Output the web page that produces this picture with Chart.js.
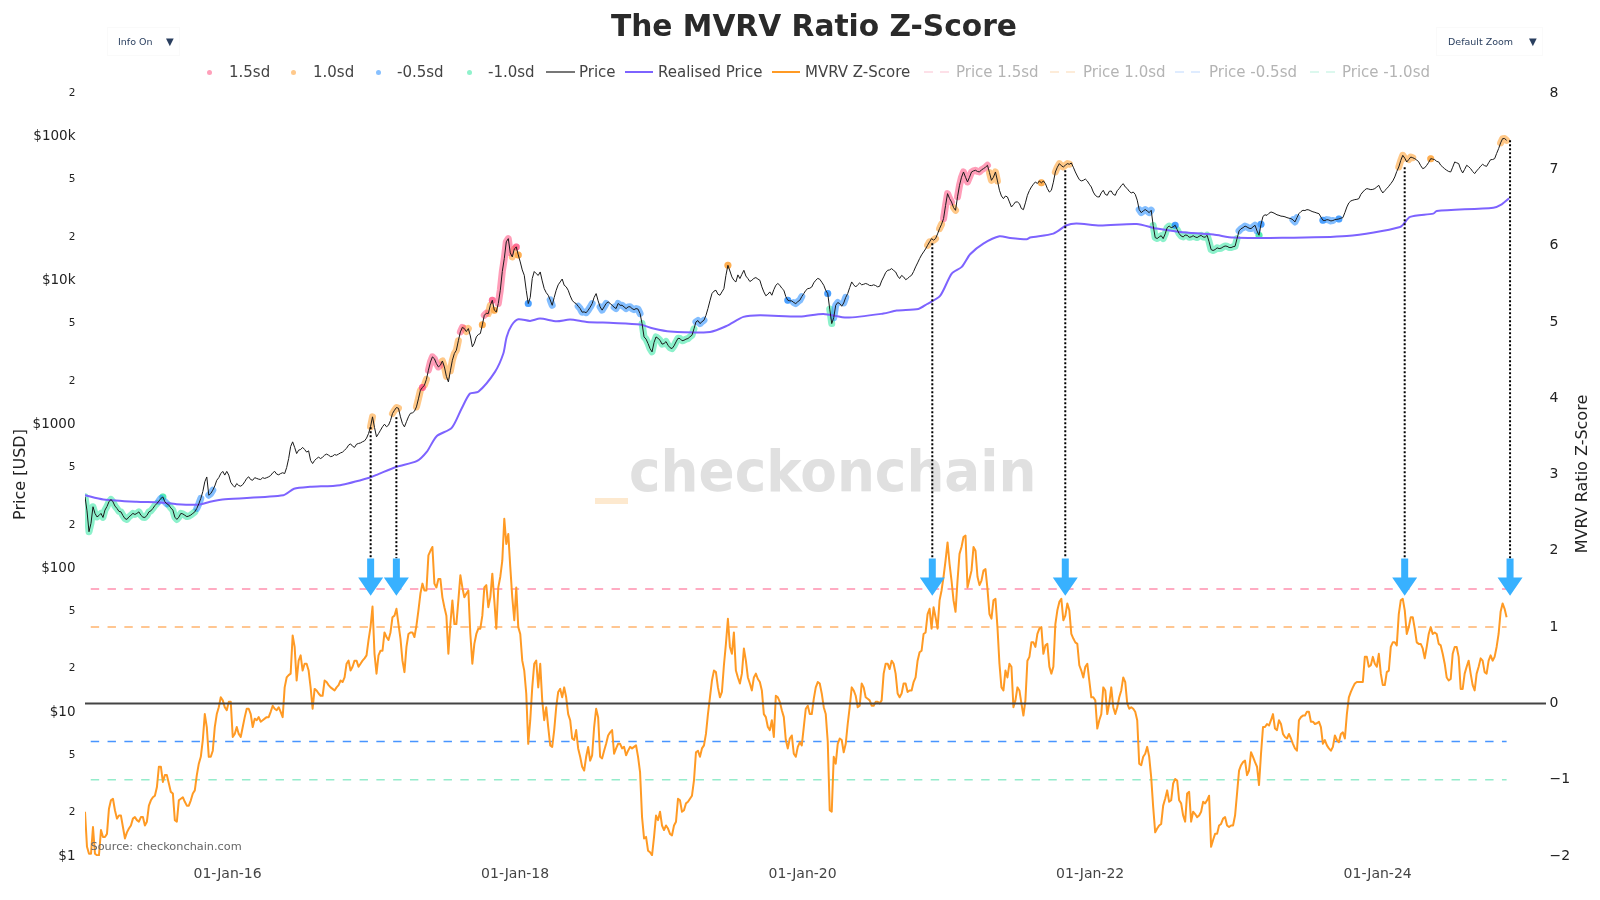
<!DOCTYPE html>
<html>
<head>
<meta charset="utf-8">
<title>The MVRV Ratio Z-Score</title>
<script src="https://cdn.jsdelivr.net/npm/chart.js@4"></script>
<style>
    html, body { margin: 0; padding: 0; background: #fff; }
    body { width: 1600px; height: 900px; position: relative; overflow: hidden; font-family: "DejaVu Sans", sans-serif; }
    canvas { position: absolute; left: 0; top: 0; }
    #title { position: absolute; left: 0; width: 1628px; top: 8px; text-align: center; font-size: 29.7px; font-weight: bold; color: #2a2a2a; }
    .menu { position: absolute; top: 27px; height: 29px; border: 1px solid #fafafa; color: #2a3f5f; font-size: 9.5px; line-height: 27px; box-sizing: border-box; }
    .menu b { position: absolute; top: 0; font-size: 10px; font-weight: normal; }
    .lg { position: absolute; top: 63px; font-size: 15px; line-height: 19px; color: #444; white-space: nowrap; }
    .lg.off { color: #b4b4b4; }
    .dot { position: absolute; top: 70px; width: 5px; height: 5px; border-radius: 50%; }
    .ln { position: absolute; top: 71px; height: 2px; }
</style>
</head>
<body>
<canvas id="mvrvChart" width="1600" height="900"></canvas>
<div id="title">The MVRV Ratio Z-Score</div>
<div class="menu" style="left:107px;width:73px;"><span style="margin-left:10px;">Info On</span><b style="left:58px;">▼</b></div>
<div class="menu" style="left:1436px;width:107px;"><span style="margin-left:11px;">Default Zoom</span><b style="left:92px;">▼</b></div>
<div id="legend"></div>
<script>
document.addEventListener('DOMContentLoaded', function () {
    // x grid of the two daily-looking series: one sample every 1/36 of a year,
    // the *Mid arrays hold the readings half a step after each of those
    const firstYear = 2015.008;
    const samplesPerYear = 36;

    const zScore = [
        -1.42,-1.97,-1.62,-1.99,-1.66,-1.75,-1.38,-1.25,-1.51,-1.47,-1.77,-1.64,-1.51,-1.53,-1.49,-1.60,-1.34,-1.23,-1.10,-0.83,
        -0.94,-1.05,-1.18,-1.55,-1.25,-1.29,-1.34,-1.18,-0.94,-0.70,-0.14,-0.70,-0.62,-0.14,0.08,-0.05,0.02,-0.44,-0.31,-0.44,
        -0.18,-0.07,-0.31,-0.22,-0.24,-0.20,-0.18,-0.03,-0.09,-0.11,0.21,0.37,0.89,0.30,0.63,0.52,0.43,-0.07,0.17,0.10,
        0.30,0.24,0.19,0.21,0.30,0.34,0.56,0.48,0.56,0.52,0.59,0.83,1.27,0.39,0.69,0.93,0.83,1.13,1.24,0.85,
        0.41,0.91,0.93,1.02,1.44,1.48,1.94,2.05,1.52,1.63,1.26,0.65,1.35,1.04,1.68,1.39,1.48,0.52,0.91,0.98,
        1.52,1.26,1.70,0.98,1.66,2.42,2.22,1.39,1.52,0.91,0.43,-0.53,0.21,0.56,0.52,-0.22,-0.31,-0.57,-0.05,0.19,
        0.21,-0.14,-0.46,-0.35,-0.70,-0.88,-0.57,-0.68,-0.07,-0.70,-0.62,-0.42,-0.35,-0.59,-0.53,-0.57,-0.62,-0.59,-0.55,-0.90,
        -1.77,-1.93,-1.99,-1.47,-1.42,-1.66,-1.64,-1.73,-1.55,-1.27,-1.40,-1.29,-1.21,-0.64,-0.70,-0.55,-0.14,0.30,0.41,0.08,
        0.50,1.11,0.65,0.43,0.26,0.72,0.34,0.17,0.39,0.28,-0.14,-0.31,-0.22,0.10,0.02,-0.18,-0.59,-0.42,-0.70,-0.51,
        -0.31,-0.03,-0.14,0.21,0.26,-0.05,-0.50,-1.42,-0.79,-0.46,-0.64,-0.27,0.21,0.10,-0.03,0.21,0.06,-0.03,0.02,0.00,
        0.39,0.52,0.56,0.39,0.08,0.26,0.15,0.17,0.34,0.67,0.91,1.17,0.98,1.13,1.35,1.66,2.11,1.61,1.20,1.96,
        2.18,1.52,1.74,2.00,1.55,1.74,1.50,1.11,1.37,0.52,0.17,0.34,0.48,0.04,0.17,-0.16,0.56,0.80,0.74,0.98,
        0.65,0.78,0.39,1.04,1.33,1.09,1.31,0.91,0.80,0.50,0.34,0.52,0.08,0.04,-0.22,0.21,-0.14,0.21,-0.14,0.08,
        0.34,0.00,-0.05,-0.11,-0.79,-0.70,-0.57,-0.97,-1.69,-1.60,-1.34,-1.14,-1.27,-0.99,-1.27,-1.47,-1.18,-1.55,-1.45,-1.47,
        -1.29,-1.27,-1.88,-1.71,-1.60,-1.51,-1.60,-1.60,-1.47,-0.88,-0.77,-0.94,-0.64,-0.77,-1.07,-0.31,-0.27,-0.22,-0.33,-0.22,
        -0.40,-0.46,-0.46,-0.59,-0.22,-0.16,-0.11,-0.24,-0.27,-0.24,-0.53,-0.55,-0.62,-0.42,-0.51,-0.38,-0.14,0.15,0.26,0.28,
        0.28,0.61,0.50,0.52,0.65,0.24,0.41,0.74,0.80,1.17,1.37,0.91,1.13,0.98,0.78,0.72,0.74,1.00,0.93,0.78,
        0.65,0.34,0.32,0.74,0.61,0.19,0.48,0.39,0.17,0.48,0.56,0.39,0.63,0.61,0.91,1.31,1.13
    ];
    const zScoreMid = [
        -1.88,-1.97,-1.97,-1.99,-1.75,-1.71,-1.27,-1.40,-1.47,-1.62,-1.69,-1.60,-1.49,-1.55,-1.49,-1.55,-1.27,-1.21,-0.83,-1.03,
        -0.94,-1.16,-1.53,-1.27,-1.23,-1.34,-1.27,-1.14,-0.79,-0.48,-0.31,-0.70,-0.31,-0.05,0.04,-0.09,0.02,-0.40,-0.40,-0.31,
        -0.07,-0.14,-0.20,-0.18,-0.22,-0.18,-0.11,-0.07,-0.05,-0.18,0.34,0.39,0.74,0.56,0.43,0.52,0.21,0.19,0.13,0.10,
        0.28,0.21,0.17,0.24,0.28,0.52,0.43,0.56,0.48,0.56,0.63,1.00,0.65,0.63,0.69,0.87,0.93,1.15,1.04,0.56,
        0.74,0.93,0.87,1.22,1.57,1.48,2.00,1.57,1.63,1.39,1.15,1.04,1.04,1.35,1.52,1.44,0.91,0.78,0.98,1.15,
        1.55,1.39,1.35,1.52,1.87,2.09,1.79,1.09,1.00,0.56,0.13,-0.22,0.52,0.21,0.04,-0.05,-0.55,-0.35,0.15,0.08,
        0.08,-0.22,-0.48,-0.59,-0.83,-0.70,-0.75,-0.31,-0.18,-0.72,-0.53,-0.38,-0.66,-0.53,-0.59,-0.68,-0.57,-0.57,-0.70,-1.49,
        -1.75,-1.95,-1.75,-1.53,-1.60,-1.60,-1.71,-1.60,-1.25,-1.42,-1.31,-1.25,-1.01,-0.62,-0.59,-0.40,0.08,0.43,0.21,0.15,
        0.78,0.74,0.93,0.34,0.39,0.56,0.26,0.34,0.32,0.17,-0.18,-0.35,-0.44,0.08,-0.09,-0.48,-0.46,-0.66,-0.57,-0.55,
        -0.07,-0.14,0.06,0.28,0.13,-0.14,-1.40,-0.70,-0.53,-0.48,-0.53,-0.05,0.17,-0.05,0.26,0.08,0.04,-0.03,0.02,0.04,
        0.52,0.45,0.52,0.13,0.13,0.26,0.17,0.28,0.56,0.69,0.93,1.24,1.26,0.98,1.48,1.87,1.83,1.35,1.61,2.05,
        2.20,1.63,2.05,1.66,1.61,1.76,1.17,1.35,1.00,0.21,0.43,0.52,-0.05,0.21,0.00,0.04,0.61,0.80,0.91,1.00,
        0.76,0.48,0.48,1.22,1.37,1.15,1.22,0.85,0.78,0.43,0.48,0.30,0.08,-0.33,-0.14,0.17,0.00,-0.05,-0.05,0.17,
        0.28,-0.07,-0.07,-0.22,-0.81,-0.66,-0.70,-1.36,-1.64,-1.58,-1.25,-1.29,-1.05,-1.01,-1.31,-1.55,-1.16,-1.42,-1.49,-1.42,
        -1.31,-1.21,-1.79,-1.71,-1.58,-1.49,-1.62,-1.60,-1.18,-0.81,-0.75,-0.88,-0.70,-0.83,-0.66,-0.31,-0.29,-0.14,-0.35,-0.27,
        -0.44,-0.40,-0.53,-0.62,-0.18,-0.16,-0.11,-0.24,-0.26,-0.31,-0.48,-0.59,-0.57,-0.48,-0.40,-0.46,0.08,0.21,0.28,0.28,
        0.61,0.48,0.61,0.48,0.39,0.24,0.43,0.80,0.76,1.35,1.22,1.00,1.13,0.80,0.78,0.59,0.91,0.91,0.91,0.76,
        0.52,0.30,0.65,0.74,0.19,0.39,0.56,0.24,0.39,0.59,0.41,0.56,0.56,0.74,1.20,1.24
    ];

    const price = [
        313,179,267,227,240,253,289,289,260,246,221,227,240,240,233,225,246,260,281,305,
        289,274,253,218,240,233,230,240,260,305,398,321,348,408,454,443,443,377,387,371,
        398,431,408,420,413,420,431,459,450,454,454,577,754,625,667,667,653,533,577,577,
        609,609,600,609,632,660,715,703,726,741,766,861,1125,817,908,1000,984,1186,1306,1125,
        958,1125,1199,1319,1722,1866,2371,2935,2638,2570,2502,1968,2783,3265,4377,4618,4618,3444,4041,4263,
        5714,5871,7262,6026,8524,14140,19470,14520,17030,13400,10830,6887,10280,11120,11420,8750,7870,6700,8525,9736,
        9230,8525,7265,6886,6358,6030,6190,6886,8080,6530,6530,7076,6700,6358,6700,6530,6530,6358,6358,5870,
        4040,3633,3180,4040,3830,3633,3537,3352,3730,3935,3830,3935,4150,5136,5000,5276,6358,8080,8525,7870,
        8750,12706,10550,9736,10280,11730,10280,10000,10440,10000,8300,7997,7870,9230,9230,8525,7265,7185,6886,7265,
        8080,8750,8985,10000,10160,9230,8080,5000,6700,6886,6950,8080,9736,8985,9578,9380,9380,9183,9183,9083,
        10550,11730,12050,11420,10280,10550,10280,10830,12380,14130,15730,17500,19470,19470,22840,26810,39980,34990,30620,45680,
        56530,48190,56530,58080,56530,59610,62900,49480,56530,42200,36900,37900,32300,34990,34070,30950,38920,44480,48190,48950,
        48950,43340,42170,56530,64610,61240,64610,65280,56530,50030,49460,48950,44480,38920,37900,42170,38920,41700,38920,43340,
        46900,43340,40410,39560,30950,30300,30300,30630,19790,20000,19470,23200,23200,24100,21090,20000,20540,20000,20000,20210,
        20000,20540,16330,16330,16600,17040,17220,16860,17220,22020,23200,23450,22850,24100,20540,27810,28260,29820,29040,28260,
        27810,27240,26800,25420,29040,30630,30950,30300,29650,29040,26100,26370,25830,26370,26660,27240,32300,35560,36330,36900,
        41050,43340,42630,43340,45680,40410,43340,46900,52200,61240,73790,66350,71840,69950,66350,59620,62900,69950,68830,66350,
        61240,58080,56530,66350,64610,55640,62900,59620,55080,59620,63940,61880,68830,69950,82070,96360,93800
    ];
    const priceMid = [
        250,205,240,232,225,268,300,270,248,232,218,233,236,246,226,232,250,272,292,312,
        280,262,226,226,238,228,234,246,280,340,430,330,372,425,470,470,395,365,375,380,
        420,412,425,415,425,425,440,470,445,460,500,700,690,660,690,640,560,560,590,590,
        620,595,615,620,640,680,730,690,735,755,800,960,950,860,960,960,1060,1250,1290,1010,
        1040,1190,1230,1500,1800,2050,2700,2850,2500,2750,2150,2350,3100,3800,4700,4400,4100,3650,4200,4900,
        5900,6700,6200,6900,11500,18500,15500,16500,15000,11800,8500,7600,11500,10800,9900,8200,7300,7600,9300,10200,
        9000,7800,7000,6600,6000,5950,6500,7600,7200,6200,6900,6900,6500,6900,6700,6350,6550,6250,6300,5000,
        3900,3350,3700,3950,3600,3750,3400,3500,3950,3800,3900,4050,4600,5250,5150,5700,7200,8400,8000,8300,
        10800,11600,10000,10900,11000,10700,9800,10300,10200,9000,7800,8300,8600,9500,8800,7700,7200,7000,7100,7700,
        8500,8800,9600,10300,9700,8500,6300,5500,7000,6600,7600,8900,9300,9300,9300,9500,9200,9300,9000,9900,
        11300,11800,11700,10700,10800,10100,10600,11500,13200,15000,16500,18500,19000,21000,24500,33000,37000,32000,38000,52000,
        52000,52000,57500,57000,58500,61000,56000,52000,49000,38500,38500,35000,33500,35000,31500,34500,42000,46500,47000,47500,
        47000,41000,48000,61000,62500,63000,64000,61000,53000,49000,50500,46500,41000,38000,40500,39500,41500,39500,42000,45500,
        44500,41500,41000,36000,29500,31000,29500,24000,19500,20400,21000,23800,23500,22500,20300,20600,19900,20400,19800,20500,
        19900,18500,16100,16800,16700,17300,16900,17100,19500,22800,23800,23000,23500,22000,24500,28500,29200,29500,28500,27900,
        27600,27000,26300,27200,30000,30500,30800,29900,29300,27500,26000,26200,26000,26500,27000,29500,34500,36000,36500,39500,
        42500,43000,42800,44500,42500,42000,45000,49000,57000,68000,70500,69000,71000,68500,62500,60500,66000,69500,67000,63000,
        59500,57000,61000,65500,59000,59000,61500,57000,57500,62000,62500,65500,69000,76000,90000,96500
    ];

    const realisedYears = [
        2015.008,2015.136,2015.367,2015.530,2015.646,2015.796,2015.878,2015.982,2016.388,2016.462,2016.573,2016.782,2016.991,2017.049,
        2017.176,2017.315,2017.385,2017.454,2017.559,2017.628,2017.686,2017.744,2017.860,2017.918,2017.941,2017.976,2018.022,2018.104,
        2018.173,2018.289,2018.382,2018.498,2018.683,2018.869,2018.962,2019.078,2019.356,2019.472,2019.588,2019.704,2019.982,2020.144,
        2020.307,2020.562,2020.654,2020.805,2020.863,2020.956,2021.037,2021.107,2021.165,2021.257,2021.369,2021.443,2021.559,2021.582,
        2021.744,2021.837,2021.906,2022.069,2022.324,2022.463,2022.625,2022.857,2022.996,2023.251,2023.785,2024.156,2024.225,2024.387,
        2024.411,2024.805,2024.863,2024.914
    ];
    const realisedPrice = [
        321,300,289,286,278,276,289,301,321,356,367,377,426,450,
        506,553,642,825,943,1285,1633,1678,2310,3096,4040,4870,5358,5222,
        5420,5190,5331,5136,5055,4920,4617,4400,4377,4819,5565,5714,5592,5839,
        5504,5870,6155,6324,6813,7786,11130,12380,15160,17980,20220,19680,19270,19790,
        21090,24100,24750,23970,24620,22850,21660,20760,19790,19680,20320,23450,27540,29040,
        30300,31960,33700,37100
    ];

    const bandLevels = [1.5, 1.0, -0.5, -1.0];
    const bandNames = ['1.5sd', '1.0sd', '-0.5sd', '-1.0sd'];
    const bandLineNames = ['Price 1.5sd', 'Price 1.0sd', 'Price -0.5sd', 'Price -1.0sd'];
    const bandColors = ['#ff4d7d', '#ff9a26', '#1e88ff', '#2ee6a0'];
    const lineColors = ['rgba(255,105,145,0.75)', 'rgba(255,154,60,0.75)', 'rgba(40,130,255,0.85)', 'rgba(60,220,160,0.55)'];

    const peakYears = [2016.995, 2017.174, 2020.902, 2021.827, 2024.188, 2024.921];
    const peakPrices = [953, 1119, 18070, 58070, 60900, 93800];
    const arrowFootPrice = 117;

    const yearTicks = [2016, 2018, 2020, 2022, 2024];
    const yearLabels = ['01-Jan-16', '01-Jan-18', '01-Jan-20', '01-Jan-22', '01-Jan-24'];
    const priceTicks = [1, 2, 5, 10, 20, 50, 100, 200, 500, 1000, 2000, 5000, 10000, 20000, 50000, 100000, 200000];
    const priceLabels = ['$1', '2', '5', '$10', '2', '5', '$100', '2', '5', '$1000', '2', '5', '$10k', '2', '5', '$100k', '2'];

    const xMin = 2015.008;
    const xMax = 2025.171;
    const lastYear = firstYear + (zScore.length - 1) / samplesPerYear;

    const zPoints = [];
    const pricePoints = [];
    zScore.forEach(function (z, i) {
        const year = firstYear + i / samplesPerYear;
        zPoints.push({ x: year, y: z });
        pricePoints.push({ x: year, y: price[i] });
        if (i < zScoreMid.length) {
            zPoints.push({ x: year + 0.5 / samplesPerYear, y: zScoreMid[i] });
            pricePoints.push({ x: year + 0.5 / samplesPerYear, y: priceMid[i] });
        }
    });
    const realisedPoints = realisedPrice.map((v, i) => ({ x: realisedYears[i], y: v }));

    // price coloured where the z-score sits in one of the bands
    const inBand = [z => z >= 1.5, z => z >= 1 && z < 1.5, z => z <= -0.5 && z > -1, z => z <= -1];

    const datasets = [];
    bandNames.forEach(function (name, b) {
        const bandData = pricePoints.map((p, i) => ({ x: p.x, y: inBand[b](zPoints[i].y) ? p.y : null }));
        const isolated = i => (bandData[i].y !== null) && !(bandData[i - 1] && bandData[i - 1].y !== null) && !(bandData[i + 1] && bandData[i + 1].y !== null);
        datasets.push({
            label: name,
            yAxisID: 'y',
            data: bandData,
            spanGaps: false,
            borderColor: bandColors[b] + '8c',
            borderWidth: 7,
            borderCapStyle: 'round',
            borderJoinStyle: 'round',
            pointRadius: ctx => isolated(ctx.dataIndex) ? 3.5 : 0,
            pointBorderWidth: 0,
            pointBackgroundColor: bandColors[b] + '8c',
            order: 6
        });
    });
    datasets.push({
        label: 'Price', yAxisID: 'y', data: pricePoints,
        borderColor: '#1a1a1a', borderWidth: 1, pointRadius: 0, borderJoinStyle: 'round', order: 2
    });
    datasets.push({
        label: 'Realised Price', yAxisID: 'y', data: realisedPoints,
        borderColor: '#7d63ff', borderWidth: 2, pointRadius: 0, tension: 0.25, order: 3
    });
    datasets.push({
        label: 'MVRV Z-Score', yAxisID: 'y1', data: zPoints,
        borderColor: '#ff9a24', borderWidth: 2, pointRadius: 0, borderJoinStyle: 'round', order: 4
    });
    bandLevels.forEach(function (level, b) {
        datasets.push({
            label: bandLineNames[b], yAxisID: 'y1',
            data: [{ x: firstYear + 0.04, y: level }, { x: lastYear, y: level }],
            borderColor: lineColors[b], borderWidth: 1.5, borderDash: [8.4, 8.4], pointRadius: 0, order: 5
        });
    });
    datasets.push({
        label: 'zero', yAxisID: 'y1',
        data: [{ x: xMin, y: 0 }, { x: xMax, y: 0 }],
        borderColor: '#444', borderWidth: 2, pointRadius: 0, order: 1
    });
    peakYears.forEach(function (year, k) {
        datasets.push({
            label: 'peak', yAxisID: 'y',
            data: [{ x: year, y: peakPrices[k] }, { x: year, y: arrowFootPrice }],
            borderColor: '#000', borderWidth: 2, borderDash: [2, 2], pointRadius: 0, order: 0
        });
    });

    const overlay = {
        id: 'overlay',
        beforeDatasetsDraw(chart) {
            const ctx = chart.ctx;
            ctx.save();
            ctx.font = 'bold 57px "DejaVu Sans"';
            ctx.fillStyle = '#e0e0e0';
            ctx.textBaseline = 'middle';
            ctx.textAlign = 'left';
            ctx.translate(629, 476);
            ctx.scale(0.935, 1);
            ctx.fillText('checkonchain', 0, 0);
            ctx.restore();
            ctx.save();
            ctx.fillStyle = '#fde9cf';
            ctx.fillRect(595, 498, 33, 6);
            ctx.restore();
        },
        afterDatasetsDraw(chart) {
            const ctx = chart.ctx;
            const xs = chart.scales.x;
            const z = chart.scales.y1;
            ctx.save();
            ctx.fillStyle = '#38b1ff';
            peakYears.forEach(function (year) {
                const x = xs.getPixelForValue(year);
                const top = z.getPixelForValue(1.9);
                const neck = z.getPixelForValue(1.65);
                const tip = z.getPixelForValue(1.41);
                ctx.beginPath();
                ctx.moveTo(x - 3.5, top);
                ctx.lineTo(x + 3.5, top);
                ctx.lineTo(x + 3.5, neck);
                ctx.lineTo(x + 12.5, neck);
                ctx.lineTo(x, tip);
                ctx.lineTo(x - 12.5, neck);
                ctx.lineTo(x - 3.5, neck);
                ctx.closePath();
                ctx.fill();
            });
            ctx.restore();
        },
        afterDraw(chart) {
            const ctx = chart.ctx;
            ctx.save();
            ctx.fillStyle = '#666';
            ctx.font = '11.3px "DejaVu Sans"';
            ctx.textBaseline = 'middle';
            ctx.fillText('Source: checkonchain.com', 90.5, 847);
            ctx.fillStyle = '#222';
            ctx.font = '16px "DejaVu Sans"';
            ctx.textAlign = 'center';
            ctx.translate(1583, 474);
            ctx.rotate(-Math.PI / 2);
            ctx.fillText('MVRV Ratio Z-Score', 0, 0);
            ctx.restore();
        }
    };

    new Chart(document.getElementById('mvrvChart').getContext('2d'), {
        type: 'line',
        data: { datasets: datasets },
        plugins: [overlay],
        options: {
            responsive: false,
            animation: false,
            normalized: true,
            layout: { padding: { top: 93, left: 0, right: 0, bottom: 0 } },
            plugins: { legend: { display: false }, title: { display: false }, tooltip: { enabled: false } },
            scales: {
                x: {
                    type: 'linear',
                    min: xMin,
                    max: xMax,
                    grid: { display: false, drawTicks: false },
                    border: { display: false },
                    afterBuildTicks(scale) { scale.ticks = yearTicks.map(v => ({ value: v })); },
                    afterFit(scale) { scale.height = 44; },
                    ticks: {
                        autoSkip: false,
                        maxRotation: 0,
                        padding: 10,
                        color: '#444',
                        font: { family: 'DejaVu Sans', size: 14 },
                        callback: v => yearLabels[yearTicks.indexOf(v)]
                    }
                },
                y: {
                    type: 'logarithmic',
                    position: 'left',
                    min: 1,
                    max: 200000,
                    grid: { display: false, drawTicks: false },
                    border: { display: false },
                    afterBuildTicks(scale) { scale.ticks = priceTicks.map(v => ({ value: v })); },
                    afterFit(scale) { scale.width = 85; },
                    title: { display: true, text: 'Price [USD]', color: '#222', font: { family: 'DejaVu Sans', size: 16 }, padding: { top: 11, bottom: 0 } },
                    ticks: {
                        autoSkip: false,
                        padding: 9.5,
                        color: '#222',
                        font: ctx => ({ family: 'DejaVu Sans', size: String(priceLabels[priceTicks.indexOf(ctx.tick.value)]).length > 1 ? 13.5 : 10.5 }),
                        callback: v => priceLabels[priceTicks.indexOf(v)]
                    }
                },
                y1: {
                    type: 'linear',
                    position: 'right',
                    min: -2,
                    max: 8,
                    grid: { display: false, drawTicks: false },
                    border: { display: false },
                    afterFit(scale) { scale.width = 54; },
                    ticks: {
                        stepSize: 1,
                        padding: 3.5,
                        color: '#222',
                        font: { family: 'DejaVu Sans', size: 14 },
                        callback: v => String(v).replace('-', '\u2212')
                    }
                }
            }
        }
    });

    // legend, entries greyed out where the original has the trace switched off
    const legend = document.getElementById('legend');
    const add = function (cls, style, text) {
        const el = document.createElement('div');
        el.className = cls;
        el.style.cssText = style;
        if (text) el.textContent = text;
        legend.appendChild(el);
    };
    const bandDotX = [207, 291, 376, 467];
    const bandTextX = [229, 313, 397, 488];
    bandNames.forEach(function (name, b) {
        add('dot', 'left:' + bandDotX[b] + 'px;background:' + bandColors[b] + '88;');
        add('lg', 'left:' + bandTextX[b] + 'px;', name);
    });
    add('ln', 'left:546px;width:29px;background:#777;');
    add('lg', 'left:579px;', 'Price');
    add('ln', 'left:625px;width:28px;background:#7d63ff;');
    add('lg', 'left:658px;', 'Realised Price');
    add('ln', 'left:772px;width:28px;background:#ff9a24;');
    add('lg', 'left:805px;', 'MVRV Z-Score');
    const lineDashX = [924, 1050, 1175, 1310];
    const lineTextX = [956, 1083, 1209, 1342];
    const paleColors = ['#fde0e8', '#fdecd9', '#dfecff', '#dcf8ee'];
    bandLineNames.forEach(function (name, b) {
        add('ln', 'left:' + lineDashX[b] + 'px;width:9px;background:' + paleColors[b] + ';');
        add('ln', 'left:' + (lineDashX[b] + 16) + 'px;width:9px;background:' + paleColors[b] + ';');
        add('lg off', 'left:' + lineTextX[b] + 'px;', name);
    });
});
</script>
</body>
</html>
